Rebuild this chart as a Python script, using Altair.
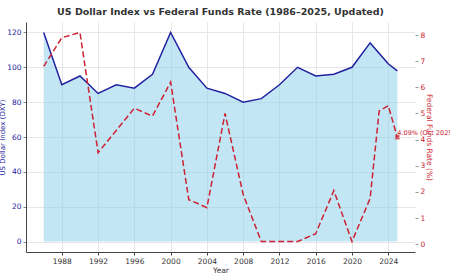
import altair as alt
import pandas as pd

dxy_years = [1986, 1988, 1990, 1992, 1994, 1996, 1998, 2000, 2002, 2004, 2006,
             2008, 2010, 2012, 2014, 2016, 2018, 2020, 2022, 2024, 2025]
dxy_values = [120, 90, 95, 85, 90, 88, 96, 120, 100, 88, 85,
              80, 82, 90, 100, 95, 96, 100, 114, 102, 98]

ffr_years = [1986, 1988, 1990, 1992, 1994, 1996, 1998, 2000, 2002, 2004, 2006,
             2008, 2010, 2012, 2014, 2016, 2018, 2020, 2022, 2023, 2024, 2025]
ffr_values = [6.8, 7.9, 8.1, 3.5, 4.35, 5.2, 4.9, 6.2, 1.7, 1.4, 5.0,
              1.9, 0.1, 0.1, 0.1, 0.4, 2.05, 0.1, 1.75, 5.1, 5.3, 4.09]

x_ticks = [1988, 1992, 1996, 2000, 2004, 2008, 2012, 2016, 2020, 2024]
left_ticks = [0, 20, 40, 60, 80, 100, 120]
right_ticks = [0, 1, 2, 3, 4, 5, 6, 7, 8]
annotation_text = "4.09% (Oct 2025)"

dxy = pd.DataFrame({"Year": dxy_years, "DXY": dxy_values})
ffr = pd.DataFrame({"Year": ffr_years, "Rate": ffr_values})
last = ffr.tail(1).assign(label=annotation_text)

FONT = "DejaVu Sans"
BLUE = "#2222a0"
RED = "#cc2233"

xscale = alt.Scale(domain=[1984.05, 2026.95], nice=False, zero=False)
xaxis = alt.Axis(values=x_ticks, format="d", title="Year", labelFontSize=7.5,
                 titleFontSize=7.5, titleFontWeight="normal", labelColor="#333333",
                 titleColor="#333333", domainColor="#444444", tickColor="#444444",
                 tickSize=3, gridColor="#e6e6e6", titlePadding=2, labelPadding=2,
                 labelOverlap=False)

yleft = alt.Scale(domain=[-6, 126], nice=False, zero=False)
yright = alt.Scale(domain=[-0.3, 8.5], nice=False, zero=False)

left_axis = alt.Axis(values=left_ticks, title="US Dollar Index (DXY)",
                     labelFontSize=7.5, titleFontSize=7,
                     titleFontWeight="normal", labelColor=BLUE,
                     titleColor=BLUE, domainColor="#444444",
                     tickColor="#888888", tickSize=3, labelOverlap=False,
                     gridColor="#e6e6e6", titlePadding=1, labelPadding=2)
right_axis = alt.Axis(orient="right", values=right_ticks,
                      title="Federal Funds Rate (%)", labelFontSize=7.5,
                      titleFontSize=7.5, titleFontWeight="normal",
                      labelColor=RED, titleColor=RED, domain=False,
                      tickColor="#999999", tickSize=3, labelOverlap=False,
                      gridColor="#eeeeee", titlePadding=0, labelPadding=2)

X = alt.X("Year:Q", scale=xscale, axis=xaxis)
YL = alt.Y("DXY:Q", scale=yleft, axis=left_axis)
YR = alt.Y("Rate:Q", scale=yright, axis=right_axis)

area = alt.Chart(dxy).mark_area(color="#87ceeb", opacity=0.5).encode(
    x=X, y=YL, y2=alt.datum(0),
)
line = alt.Chart(dxy).mark_line(color=BLUE, strokeWidth=1.5).encode(x=X, y=YL)
left = alt.layer(area, line)

rate_line = alt.Chart(ffr).mark_line(color=RED, strokeWidth=1.5,
                                     strokeDash=[6, 3]).encode(x=X, y=YR)
marker = alt.Chart(last).mark_point(shape="cross", angle=45, color=RED,
                                    size=30, filled=True).encode(x=X, y=YR)
label = alt.Chart(last).mark_text(align="left", baseline="bottom", dx=0, dy=-1,
                                  fontSize=6.5, color=RED, font=FONT).encode(
    x=X, y=YR, text="label:N",
)
right = alt.layer(rate_line, marker, label)

chart = alt.layer(left, right).resolve_scale(y="independent").properties(
    width=389, height=230,
    autosize=alt.AutoSizeParams(type="none"),
    padding={"left": 26, "top": 22, "right": 35, "bottom": 28},
    title=alt.Title("US Dollar Index vs Federal Funds Rate (1986–2025, Updated)",
                    fontSize=9.5, fontWeight="bold", color="#333333", font=FONT,
                    offset=6, anchor="middle"),
).configure(font=FONT).configure_view(stroke=None).configure_axis(grid=True)

chart.save("out.html", embed_options={"renderer": "svg", "actions": False})
